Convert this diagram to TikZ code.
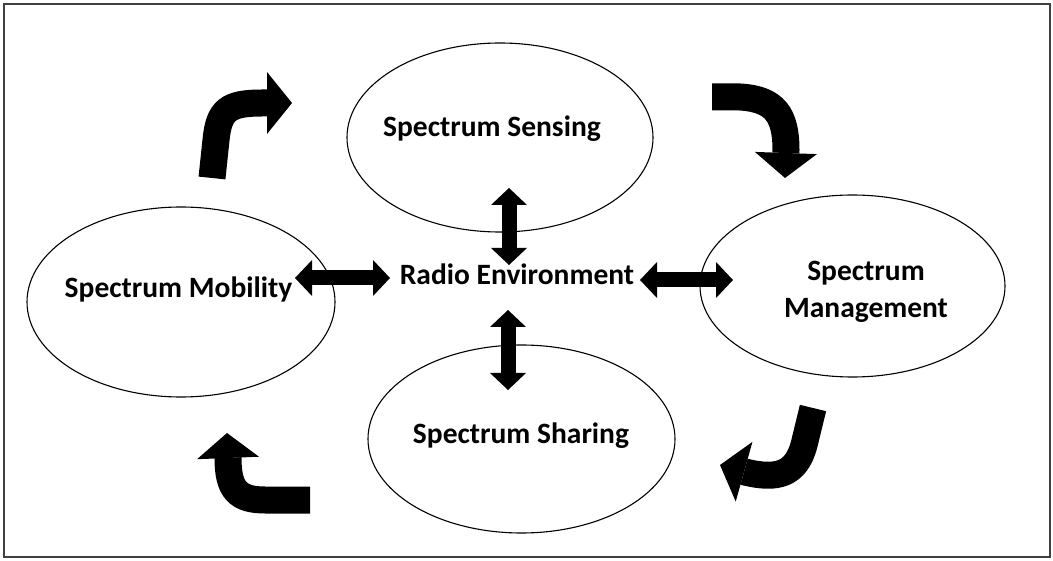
\documentclass[tikz,border=0pt]{standalone}
\usepackage{fontspec}
\setmainfont{Carlito}
\usetikzlibrary{shapes.geometric,arrows.meta}
\begin{document}
\begin{tikzpicture}[x=1pt,y=-1pt,
  stage/.style={ellipse,draw=black,line width=1.1pt,inner sep=0pt},
  lbl/.style={font=\fontsize{29.5}{37}\selectfont\bfseries,text=black,inner sep=0pt,anchor=base,align=center},
  dblarrow/.style={line width=15pt,
    {Triangle[length=17pt,width=36pt,line width=0pt]}-{Triangle[length=17pt,width=36pt,line width=0pt]}},
  cyclearrow/.style={line width=27pt,
    -{Triangle[length=25pt,width=62pt,line width=0pt]}}]
  \useasboundingbox (0,0) rectangle (1053,561);
  \draw[line width=1.6pt,draw=black!75] (4,4) rectangle (1050,557);

  % the four stages round the radio environment
  \node[stage,minimum width=306pt,minimum height=189pt] (sensing) at (500,137.5) {};
  \node[stage,minimum width=308pt,minimum height=190pt] (mobility) at (181,302) {};
  \node[stage,minimum width=305pt,minimum height=182pt] (management) at (852.5,286) {};
  \node[stage,minimum width=307pt,minimum height=188pt] (sharing) at (521.5,439) {};

  \node[lbl] (sensingtxt) at (492,137) {Spectrum Sensing};
  \node[lbl] (mobilitytxt) at (178.5,298) {Spectrum Mobility};
  \node[lbl] (managementtxt) at (866,318) {Spectrum\\Management};
  \node[lbl] (sharingtxt) at (521,443) {Spectrum Sharing};
  \node[lbl] (radio) at (517,285) {Radio Environment};

  % double-headed links to the radio environment
  \coordinate (l1) at (295,278);  \coordinate (l2) at (390,278);
  \coordinate (r1) at (640,280);  \coordinate (r2) at (733,280);
  \coordinate (u1) at (509,188);  \coordinate (u2) at (509,265);
  \coordinate (d1) at (508,310);  \coordinate (d2) at (508,390);
  \draw[dblarrow] (l1) -- (l2);
  \draw[dblarrow] (r1) -- (r2);
  \draw[dblarrow] (u1) -- (u2);
  \draw[dblarrow] (d1) -- (d2);

  % curved arrows of the cognitive cycle
  \coordinate (a1s) at (212,178);  \coordinate (a1e) at (292,103);
  \coordinate (a2s) at (712,97);   \coordinate (a2e) at (785,178);
  \coordinate (a3s) at (813,408);  \coordinate (a3e) at (720,465);
  \coordinate (a4s) at (310,500);  \coordinate (a4e) at (227,433);
  \draw[cyclearrow] (a1s) -- (216,140) .. controls (219,110) and (228,103) .. (262,103) -- (a1e);
  \draw[cyclearrow] (a2s) -- (740,97) .. controls (775,99) and (786,115) .. (786,150) -- (a2e);
  \draw[cyclearrow] (a3s) -- (804,445) .. controls (796,474) and (778,480) .. (745,472) -- (a3e);
  \draw[cyclearrow] (a4s) -- (265,500) .. controls (238,500) and (228,490) .. (228,458) -- (a4e);
\end{tikzpicture}
\end{document}
